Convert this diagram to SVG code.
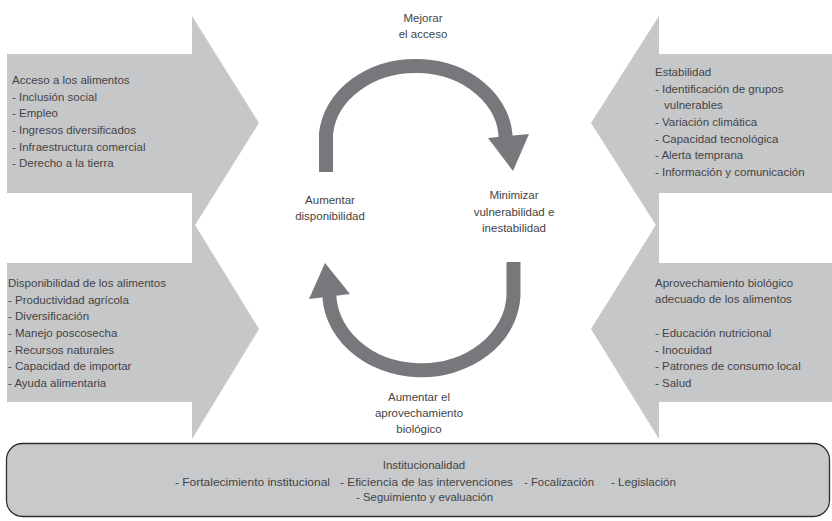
<svg xmlns="http://www.w3.org/2000/svg" width="832" height="521" viewBox="0 0 832 521">
<style>
.blk{fill:#c6c7c9}
.t{font-family:"Liberation Sans",Arial,sans-serif;font-size:11.5px;fill:#444444}
.c{text-anchor:middle}
.arc{fill:none;stroke:#77787b;stroke-width:14}
.head{fill:#77787b}
</style>
<rect width="832" height="521" fill="#ffffff"/>
<g id="acceso">
<polygon class="blk" points="7,54 192,54 192,16 259,123 192,230 192,193 7,193"/>
<text class="t" x="12" y="84">Acceso a los alimentos</text>
<text class="t" x="12" y="101">- Inclusión social</text>
<text class="t" x="12" y="117">- Empleo</text>
<text class="t" x="12" y="134">- Ingresos diversificados</text>
<text class="t" x="12" y="151">- Infraestructura comercial</text>
<text class="t" x="12" y="167">- Derecho a la tierra</text>
</g>
<g id="disponibilidad">
<polygon class="blk" points="7,263 192,263 192,220 259,329 192,439 192,402 7,402"/>
<text class="t" x="8" y="287">Disponibilidad de los alimentos</text>
<text class="t" x="8" y="304">- Productividad agrícola</text>
<text class="t" x="8" y="320">- Diversificación</text>
<text class="t" x="8" y="337">- Manejo poscosecha</text>
<text class="t" x="8" y="354">- Recursos naturales</text>
<text class="t" x="8" y="370">- Capacidad de importar</text>
<text class="t" x="8" y="387">- Ayuda alimentaria</text>
</g>
<g id="estabilidad">
<polygon class="blk" points="832,54 659,54 659,16 591,123 659,230 659,193 832,193"/>
<text class="t" x="655" y="76">Estabilidad</text>
<text class="t" x="655" y="93">- Identificación de grupos</text>
<text class="t" x="664" y="109">vulnerables</text>
<text class="t" x="655" y="126">- Variación climática</text>
<text class="t" x="655" y="143">- Capacidad tecnológica</text>
<text class="t" x="655" y="159">- Alerta temprana</text>
<text class="t" x="655" y="176">- Información y comunicación</text>
</g>
<g id="aprovechamiento">
<polygon class="blk" points="832,263 659,263 659,220 591,329 659,439 659,402 832,402"/>
<text class="t" x="655" y="287">Aprovechamiento biológico</text>
<text class="t" x="655" y="303">adecuado de los alimentos</text>
<text class="t" x="655" y="337">- Educación nutricional</text>
<text class="t" x="655" y="354">- Inocuidad</text>
<text class="t" x="655" y="370">- Patrones de consumo local</text>
<text class="t" x="655" y="387">- Salud</text>
</g>
<g id="institucionalidad">
<rect x="6.5" y="443.5" width="823" height="73" rx="16" ry="16" fill="#c8c9cb" stroke="#2e2e2e" stroke-width="1.3"/>
<text class="t c" x="424" y="469" font-size="11">Institucionalidad</text>
<text class="t" x="175" y="486" textLength="155" lengthAdjust="spacingAndGlyphs">- Fortalecimiento institucional</text>
<text class="t" x="340" y="486" textLength="173" lengthAdjust="spacingAndGlyphs">- Eficiencia de las intervenciones</text>
<text class="t" x="524" y="486" textLength="70" lengthAdjust="spacingAndGlyphs">- Focalización</text>
<text class="t" x="611" y="486" textLength="65" lengthAdjust="spacingAndGlyphs">- Legislación</text>
<text class="t" x="356" y="501" textLength="137" lengthAdjust="spacingAndGlyphs">- Seguimiento y evaluación</text>
</g>
<g id="connectors">
<path class="arc" d="M326,172 L326,134 A90,74 0 0 1 505.7,140.4"/>
<polygon class="head" points="488,138 529,134 513,171"/>
<path class="arc" d="M513.5,262 L513.5,296 A92,77.5 0 0 1 329.4,289.3"/>
<polygon class="head" points="309,299 350,294 325,263"/>
</g>
<g id="labels">
<text class="t c" x="423" y="22">Mejorar</text>
<text class="t c" x="423" y="38">el acceso</text>
<text class="t c" x="330" y="204">Aumentar</text>
<text class="t c" x="330" y="220">disponibilidad</text>
<text class="t c" x="514" y="199">Minimizar</text>
<text class="t c" x="514" y="216">vulnerabilidad e</text>
<text class="t c" x="514" y="232">inestabilidad</text>
<text class="t c" x="419" y="401">Aumentar el</text>
<text class="t c" x="419" y="417">aprovechamiento</text>
<text class="t c" x="419" y="433">biológico</text>
</g>
</svg>
